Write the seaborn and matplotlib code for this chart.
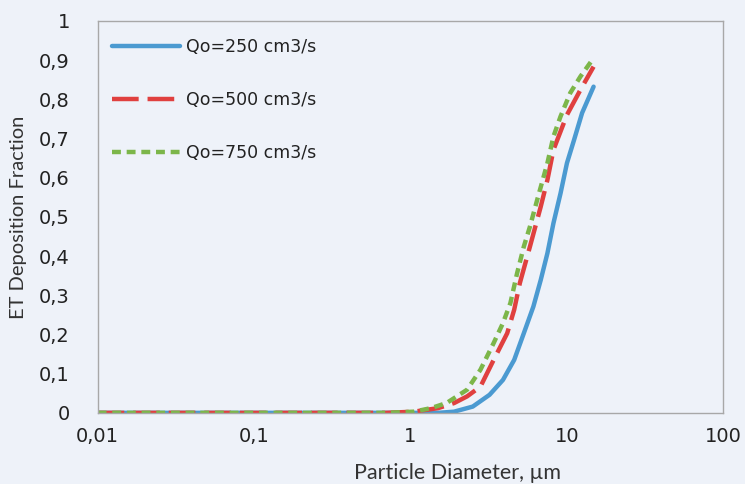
import matplotlib
matplotlib.use("Agg")
import matplotlib.pyplot as plt
import seaborn as sns
import pandas as pd

# Data (particle diameter in µm, ET deposition fraction)
flat_d = [0.01, 0.02, 0.03, 0.05, 0.1, 0.2, 0.3, 0.5, 0.7]
flat_f = [0.0, 0.0, 0.0, 0.0, 0.0, 0.0, 0.0, 0.0, 0.0]

d250 = flat_d + [1.0, 1.5, 1.9, 2.5, 3.2, 3.9, 4.6, 5.3, 6.1, 6.8, 7.5, 8.2, 9.1, 10.0, 11.1, 12.5, 14.8]
q250 = flat_f + [0.0, 0.0, 0.003, 0.016, 0.046, 0.084, 0.135, 0.203, 0.271, 0.339, 0.407, 0.484, 0.56, 0.637, 0.696, 0.765, 0.832]

d500 = flat_d + [1.05, 1.5, 1.9, 2.3, 2.8, 3.4, 4.15, 4.6, 5.0, 5.8, 6.8, 7.5, 8.2, 10.0, 12.2, 14.8]
q500 = flat_f + [0.003, 0.012, 0.025, 0.042, 0.067, 0.135, 0.203, 0.263, 0.331, 0.424, 0.526, 0.594, 0.671, 0.760, 0.824, 0.883]

d750 = flat_d + [1.05, 1.35, 1.7, 2.3, 2.8, 3.4, 3.9, 4.35, 4.8, 5.3, 5.8, 6.45, 7.5, 8.2, 9.1, 10.5, 12.2, 14.8]
q750 = flat_f + [0.003, 0.012, 0.025, 0.059, 0.110, 0.178, 0.229, 0.280, 0.356, 0.424, 0.475, 0.543, 0.637, 0.705, 0.756, 0.816, 0.858, 0.905]

labels = ["Qo=250 cm3/s", "Qo=500 cm3/s", "Qo=750 cm3/s"]
xticks = [0.01, 0.1, 1, 10, 100]
xticklabels = ["0,01", "0,1", "1", "10", "100"]
yticks = [0, 0.1, 0.2, 0.3, 0.4, 0.5, 0.6, 0.7, 0.8, 0.9, 1.0]
yticklabels = ["0", "0,1", "0,2", "0,3", "0,4", "0,5", "0,6", "0,7", "0,8", "0,9", "1"]

sns.set_style("white")
plt.rcParams['font.family'] = ['DejaVu Sans']

bg = "#eef2f9"
fig = plt.figure(figsize=(7.45, 4.84), dpi=100, facecolor=bg)
ax = fig.add_axes([0.131, 0.147, 0.840, 0.810])
ax.set_facecolor(bg)

colors = ["#4b9ad1", "#e0403f", "#7cb64a"]
styles = ["-", (0, (6, 2)), (0, (2, 1.3))]
for xs, vals, lab, c, ls in zip([d250, d500, d750], [q250, q500, q750], labels, colors, styles):
    df = pd.DataFrame({"d": xs, "f": vals})
    sns.lineplot(data=df, x="d", y="f", ax=ax, color=c, lw=3.2, ls=ls,
                 label=lab, estimator=None, sort=False)

ax.set_xscale("log")
ax.set_xlim(0.01, 100)
ax.set_ylim(0, 1)
ax.set_xticks(xticks)
ax.set_xticklabels(xticklabels)
ax.set_yticks(yticks)
ax.set_yticklabels(yticklabels)
ax.minorticks_off()
ax.tick_params(axis="both", length=0, labelsize=14, colors="#222222")
ax.tick_params(axis="y", pad=20)
ax.tick_params(axis="x", pad=10)

for s in ax.spines.values():
    s.set_color("#a8a8a8")
    s.set_linewidth(1.0)

ax.set_xlabel("Particle Diameter, µm", fontsize=15.5, family=["Lato", "DejaVu Sans"], color="#333333")
ax.set_ylabel("ET Deposition Fraction", fontsize=14.5, family=["Lato", "DejaVu Sans"], color="#333333")
ax.xaxis.set_label_coords(0.575, -0.128)
ax.yaxis.set_label_coords(-0.113, 0.5)

leg = ax.legend(loc="upper left", frameon=False, fontsize=12.5, handlelength=3.9,
                handletextpad=0.35, labelspacing=2.0, bbox_to_anchor=(-0.004, 1.0),
                borderaxespad=0.6)
for t in leg.get_texts():
    t.set_color("#222222")

fig.savefig("out.png", dpi=100, facecolor=bg)
